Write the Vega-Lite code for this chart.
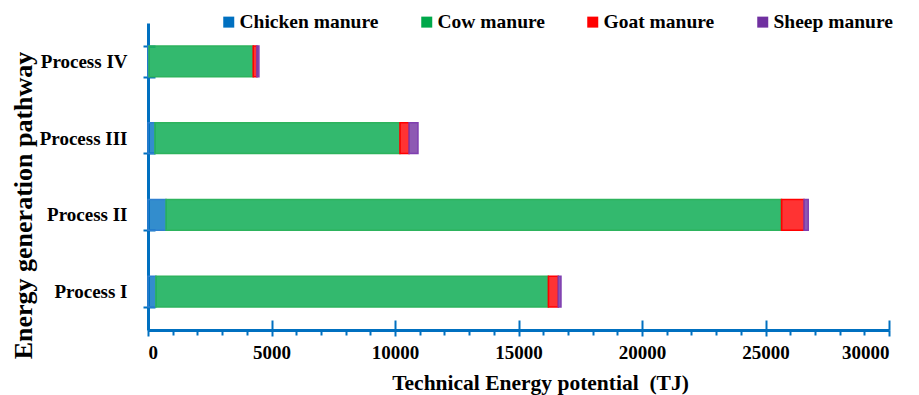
{
  "$schema": "https://vega.github.io/schema/vega-lite/v6.json",
  "width": 741,
  "height": 307,
  "autosize": {"type": "none"},
  "padding": {"left": 148, "top": 23, "right": 30, "bottom": 65},
  "background": "white",
  "data": {
    "values": [
      {"process": "Process I", "source": "Chicken manure", "k": 1, "value": 320},
      {"process": "Process I", "source": "Cow manure", "k": 2, "value": 15890},
      {"process": "Process I", "source": "Goat manure", "k": 3, "value": 400},
      {"process": "Process I", "source": "Sheep manure", "k": 4, "value": 110},
      {"process": "Process II", "source": "Chicken manure", "k": 1, "value": 730},
      {"process": "Process II", "source": "Cow manure", "k": 2, "value": 24920},
      {"process": "Process II", "source": "Goat manure", "k": 3, "value": 910},
      {"process": "Process II", "source": "Sheep manure", "k": 4, "value": 170},
      {"process": "Process III", "source": "Chicken manure", "k": 1, "value": 280},
      {"process": "Process III", "source": "Cow manure", "k": 2, "value": 9920},
      {"process": "Process III", "source": "Goat manure", "k": 3, "value": 370},
      {"process": "Process III", "source": "Sheep manure", "k": 4, "value": 360},
      {"process": "Process IV", "source": "Chicken manure", "k": 1, "value": 40},
      {"process": "Process IV", "source": "Cow manure", "k": 2, "value": 4220},
      {"process": "Process IV", "source": "Goat manure", "k": 3, "value": 150},
      {"process": "Process IV", "source": "Sheep manure", "k": 4, "value": 80}
    ]
  },
  "resolve": {"axis": {"x": "independent", "y": "independent"}},
  "layer": [
    {
      "mark": {"type": "bar", "strokeWidth": 1.5, "fillOpacity": 0.8},
      "encoding": {
        "y": {
          "field": "process",
          "type": "nominal",
          "sort": ["Process IV", "Process III", "Process II", "Process I"],
          "scale": {"paddingInner": 0.6, "paddingOuter": 0.3},
          "axis": {
            "orient": "left",
            "title": "Energy generation pathway",
            "titleFont": "Liberation Serif",
            "titleFontSize": 26,
            "titleFontWeight": "bold",
            "titleColor": "black",
            "titlePadding": 3,
            "titleY": 182,
            "labelFont": "Liberation Serif",
            "labelFontSize": 19,
            "labelFontWeight": "bold",
            "labelColor": "black",
            "labelPadding": 16,
            "tickBand": "extent",
            "tickSize": 5,
            "tickWidth": 2,
            "tickColor": "#0070C0",
            "domainColor": "#0070C0",
            "domainWidth": 3,
            "grid": false
          }
        },
        "x": {
          "field": "value",
          "type": "quantitative",
          "stack": "zero",
          "scale": {"domain": [0, 30000], "nice": false},
          "axis": {
            "orient": "bottom",
            "title": "Technical Energy potential\u00a0\u00a0(TJ)",
            "titleFont": "Liberation Serif",
            "titleFontSize": 21.5,
            "titleFontWeight": "bold",
            "titleColor": "black",
            "titlePadding": 10,
            "titleX": 392,
            "values": [0,1000,2000,3000,4000,5000,6000,7000,8000,9000,10000,11000,12000,13000,14000,15000,16000,17000,18000,19000,20000,21000,22000,23000,24000,25000,26000,27000,28000,29000,30000],
            "labelExpr": "datum.value % 5000 === 0 ? datum.value : ''",
            "labelFont": "Liberation Serif",
            "labelFontSize": 19,
            "labelFontWeight": "bold",
            "labelColor": "black",
            "labelPadding": 7,
            "labelOverlap": false,
            "tickSize": {"condition": {"test": "datum.value % 5000 === 0", "value": 6}, "value": 5},
            "tickWidth": 2,
            "tickColor": "#0070C0",
            "domainColor": "#0070C0",
            "domainWidth": 3,
            "grid": false
          }
        },
        "color": {
          "field": "source",
          "type": "nominal",
          "scale": {
            "domain": ["Chicken manure", "Cow manure", "Goat manure", "Sheep manure"],
            "range": ["#0070C0", "#00A84A", "#FF0000", "#7030A0"]
          },
          "legend": {
            "title": null,
            "orient": "none",
            "direction": "horizontal",
            "legendX": 71,
            "legendY": -11,
            "padding": 0,
            "symbolType": "square",
            "symbolSize": 121,
            "symbolStrokeWidth": 0,
            "symbolOpacity": 1,
            "labelFont": "Liberation Serif",
            "labelFontSize": 19.5,
            "labelFontWeight": "bold",
            "labelColor": "black",
            "labelOffset": 1,
            "columnPadding": 38
          }
        },
        "stroke": {
          "field": "source",
          "type": "nominal",
          "scale": {
            "domain": ["Chicken manure", "Cow manure", "Goat manure", "Sheep manure"],
            "range": ["#2F7FD0", "#2DB35D", "#FF0000", "#7F3FB0"]
          },
          "legend": null
        },
        "order": {"field": "k", "type": "quantitative"}
      }
    },
    {
      "mark": {"type": "bar", "opacity": 0},
      "encoding": {
        "y": {
          "field": "process",
          "type": "nominal",
          "sort": ["Process IV", "Process III", "Process II", "Process I"],
          "axis": {
            "orient": "left",
            "title": null,
            "labels": false,
            "domain": false,
            "tickBand": "extent",
            "tickSize": -7,
            "tickWidth": 2,
            "tickColor": "#0070C0",
            "grid": false
          }
        },
        "x": {
          "field": "value",
          "type": "quantitative",
          "stack": "zero",
          "axis": {
            "orient": "bottom",
            "title": null,
            "labels": false,
            "domain": false,
            "values": [0,5000,10000,15000,20000,25000,30000],
            "tickSize": -10,
            "tickWidth": 2,
            "tickColor": "#0070C0",
            "grid": false
          }
        }
      }
    }
  ],
  "config": {"view": {"stroke": null}}
}
